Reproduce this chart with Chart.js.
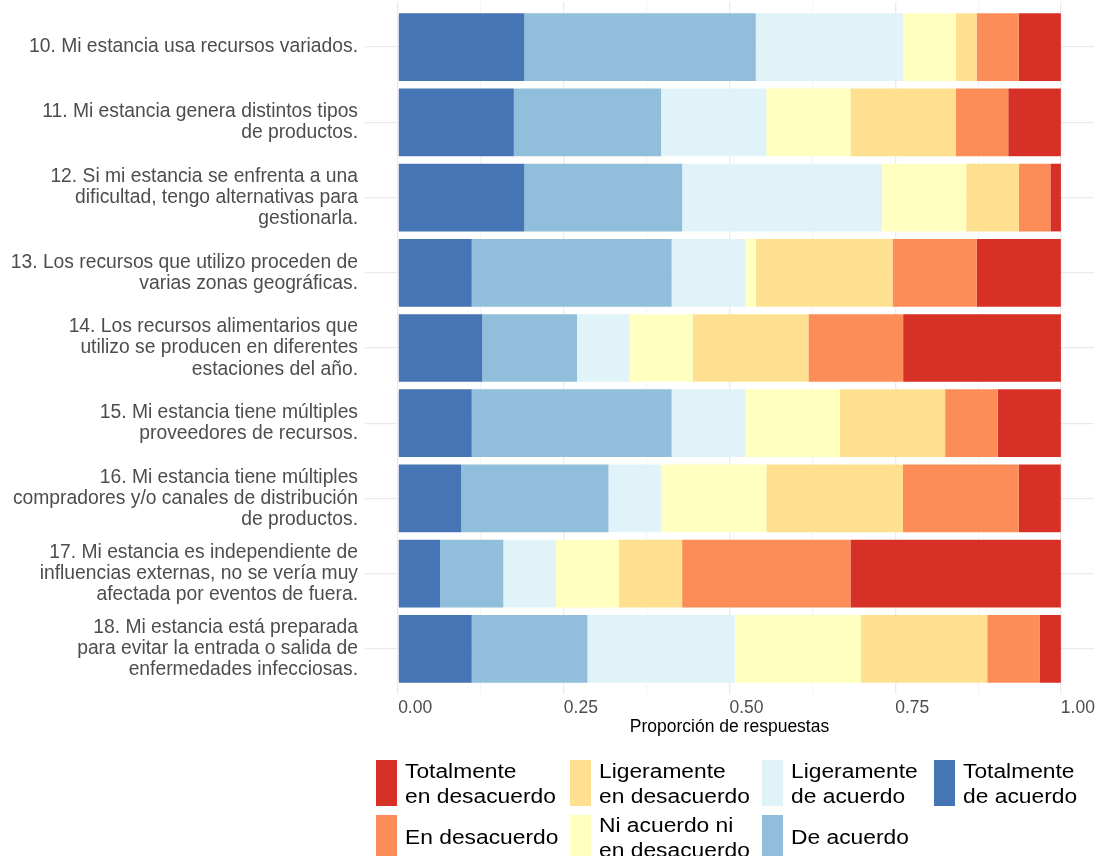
<!DOCTYPE html>
<html>
<head>
<meta charset="utf-8">
<script src="https://cdn.jsdelivr.net/npm/chart.js@4.4.1/dist/chart.umd.min.js"></script>
<style>
  html, body { margin: 0; padding: 0; background: #fff; overflow: hidden; }
  #wrap { position: relative; width: 1099px; height: 856px; overflow: hidden; }
  #chart { position: absolute; left: 0; top: 0; }
  .swatch { position: absolute; width: 21px; height: 46px; }
  .lbl {
    position: absolute;
    font-family: "Liberation Sans", Arial, sans-serif;
    font-size: 20px;
    line-height: 25px;
    color: #000;
    white-space: pre;
    transform: scaleX(1.14);
    transform-origin: left top;
  }
</style>
</head>
<body>
<div id="wrap">
  <canvas id="chart" width="1099" height="856"></canvas>
  <div id="legend"></div>
</div>
<script>
// ---- données ----
const questions = [
    ["10. Mi estancia usa recursos variados."],
    ["11. Mi estancia genera distintos tipos", "de productos."],
    ["12. Si mi estancia se enfrenta a una", "dificultad, tengo alternativas para", "gestionarla."],
    ["13. Los recursos que utilizo proceden de", "varias zonas geográficas."],
    ["14. Los recursos alimentarios que", "utilizo se producen en diferentes", "estaciones del año."],
    ["15. Mi estancia tiene múltiples", "proveedores de recursos."],
    ["16. Mi estancia tiene múltiples", "compradores y/o canales de distribución", "de productos."],
    ["17. Mi estancia es independiente de", "influencias externas, no se vería muy", "afectada por eventos de fuera."],
    ["18. Mi estancia está preparada", "para evitar la entrada o salida de", "enfermedades infecciosas."]
];

// proportions par réponse (une valeur par question 10..18)
const totalmenteAcuerdo    = [0.1905, 0.1746, 0.1905, 0.1111, 0.1270, 0.1111, 0.0952, 0.0635, 0.1111];
const deAcuerdo            = [0.3492, 0.2222, 0.2381, 0.3016, 0.1429, 0.3016, 0.2222, 0.0952, 0.1746];
const ligeramenteAcuerdo   = [0.2222, 0.1587, 0.3016, 0.1111, 0.0794, 0.1111, 0.0794, 0.0794, 0.2222];
const niAcuerdoNi          = [0.0794, 0.1270, 0.1270, 0.0159, 0.0952, 0.1429, 0.1587, 0.0952, 0.1905];
const ligeramenteDesacuerdo = [0.0317, 0.1587, 0.0794, 0.2063, 0.1746, 0.1587, 0.2063, 0.0952, 0.1905];
const enDesacuerdo         = [0.0635, 0.0794, 0.0476, 0.1270, 0.1429, 0.0794, 0.1746, 0.2540, 0.0794];
const totalmenteDesacuerdo = [0.0635, 0.0794, 0.0159, 0.1270, 0.2381, 0.0952, 0.0635, 0.3175, 0.0317];

const seriesLabels = [
    "Totalmente\nde acuerdo",
    "De acuerdo",
    "Ligeramente\nde acuerdo",
    "Ni acuerdo ni\nen desacuerdo",
    "Ligeramente\nen desacuerdo",
    "En desacuerdo",
    "Totalmente\nen desacuerdo"
];
const seriesValues = [totalmenteAcuerdo, deAcuerdo, ligeramenteAcuerdo, niAcuerdoNi,
                      ligeramenteDesacuerdo, enDesacuerdo, totalmenteDesacuerdo];
const seriesColors = ["#4575b4", "#91bfdb", "#e0f3f8", "#ffffbf", "#fee090", "#fc8d59", "#d73027"];

const xTicks = [0, 0.25, 0.5, 0.75, 1];
const xMinorTicks = [0.125, 0.375, 0.625, 0.875];
const xTickLabels = ["0.00", "0.25", "0.50", "0.75", "1.00"];
const xTitle = "Proporción de respuestas";

// ordre de la légende (colonnes de 2)
const legendOrder = [6, 5, 4, 3, 2, 1, 0];

// ---- graphique ----
const datasets = seriesValues.map((vals, s) => ({
    label: seriesLabels[s].replace("\n", " "),
    data: vals.map((v, i) => ({ x: v, y: i })),
    backgroundColor: seriesColors[s],
    borderWidth: 0,
    barPercentage: 1,
    categoryPercentage: 0.9
}));

const FONT = "'Liberation Sans', Arial, sans-serif";

// zone du graphique fixée (comme dans la figure ggplot)
const AREA = { left: 365, right: 1094, top: 2, bottom: 694 };

const fixArea = {
    id: "fixArea",
    afterLayout(chart) {
        const ca = chart.chartArea;
        Object.assign(ca, AREA);
        ca.width = AREA.right - AREA.left;
        ca.height = AREA.bottom - AREA.top;
        const x = chart.scales.x, y = chart.scales.y;
        x.left = AREA.left; x.right = AREA.right; x.width = AREA.right - AREA.left;
        x.top = AREA.bottom; x.bottom = AREA.bottom + 44; x.height = 44;
        y.top = AREA.top; y.bottom = AREA.bottom; y.height = AREA.bottom - AREA.top;
        y.left = 0; y.right = AREA.left; y.width = AREA.left;
        x.configure(); y.configure();
    }
};

new Chart(document.getElementById("chart"), {
    type: "bar",
    data: { datasets: datasets },
    plugins: [fixArea],
    options: {
        indexAxis: "y",
        responsive: false,
        animation: false,
        devicePixelRatio: 1,
        layout: { padding: { left: 0, right: 5, top: 2, bottom: 118 } },
        plugins: {
            legend: { display: false },
            tooltip: { enabled: false }
        },
        scales: {
            x: {
                type: "linear",
                stacked: true,
                min: -0.05,
                max: 1.05,
                border: { display: false },
                afterBuildTicks: axis => {
                    axis.ticks = xTicks.concat(xMinorTicks).sort((a, b) => a - b).map(v => ({ value: v }));
                },
                afterFit: axis => { axis.height = 44; },
                grid: {
                    drawTicks: false,
                    color: ctx => xMinorTicks.includes(ctx.tick && ctx.tick.value) ? "#f0f0f0" : "#ebebeb",
                    lineWidth: ctx => xMinorTicks.includes(ctx.tick && ctx.tick.value) ? 0.8 : 1.3
                },
                ticks: {
                    autoSkip: false,
                    maxRotation: 0,
                    align: "start",
                    padding: 4,
                    color: "#4d4d4d",
                    font: { family: FONT, size: 17.5 },
                    callback: value => {
                        const k = xTicks.indexOf(value);
                        return k >= 0 ? xTickLabels[k] : "";
                    }
                },
                title: {
                    display: true,
                    text: xTitle,
                    color: "#000",
                    padding: { top: 0, bottom: 0 },
                    font: { family: FONT, size: 17.5 }
                }
            },
            y: {
                type: "linear",
                stacked: true,
                reverse: true,
                offset: false,
                min: -0.6,
                max: questions.length - 1 + 0.6,
                border: { display: false },
                afterBuildTicks: axis => {
                    axis.ticks = questions.map((q, i) => ({ value: i }));
                },
                afterFit: axis => { axis.width = 365; },
                grid: { drawTicks: false, offset: false, color: "#ebebeb", lineWidth: 1.3 },
                ticks: {
                    autoSkip: false,
                    padding: 7,
                    color: "#4d4d4d",
                    font: { family: FONT, size: 19.3, lineHeight: "21.2px" },
                    callback: value => questions[value]
                }
            }
        }
    }
});

// ---- légende HTML ----
const legend = document.getElementById("legend");
const colX = [376, 570, 762, 934];
const rowTop = [760, 815];
legendOrder.forEach((s, k) => {
    const col = Math.floor(k / 2);
    const row = k % 2;
    const sw = document.createElement("div");
    sw.className = "swatch";
    sw.style.left = colX[col] + "px";
    sw.style.top = rowTop[row] + "px";
    sw.style.background = seriesColors[s];
    legend.appendChild(sw);

    const lbl = document.createElement("div");
    lbl.className = "lbl";
    lbl.textContent = seriesLabels[s];
    lbl.style.left = (colX[col] + 29) + "px";
    const lines = seriesLabels[s].split("\n").length;
    const top = row === 0 ? 758.6 : (lines === 1 ? 824.6 : 812.6);
    lbl.style.top = top + "px";
    legend.appendChild(lbl);
});
</script>
</body>
</html>
